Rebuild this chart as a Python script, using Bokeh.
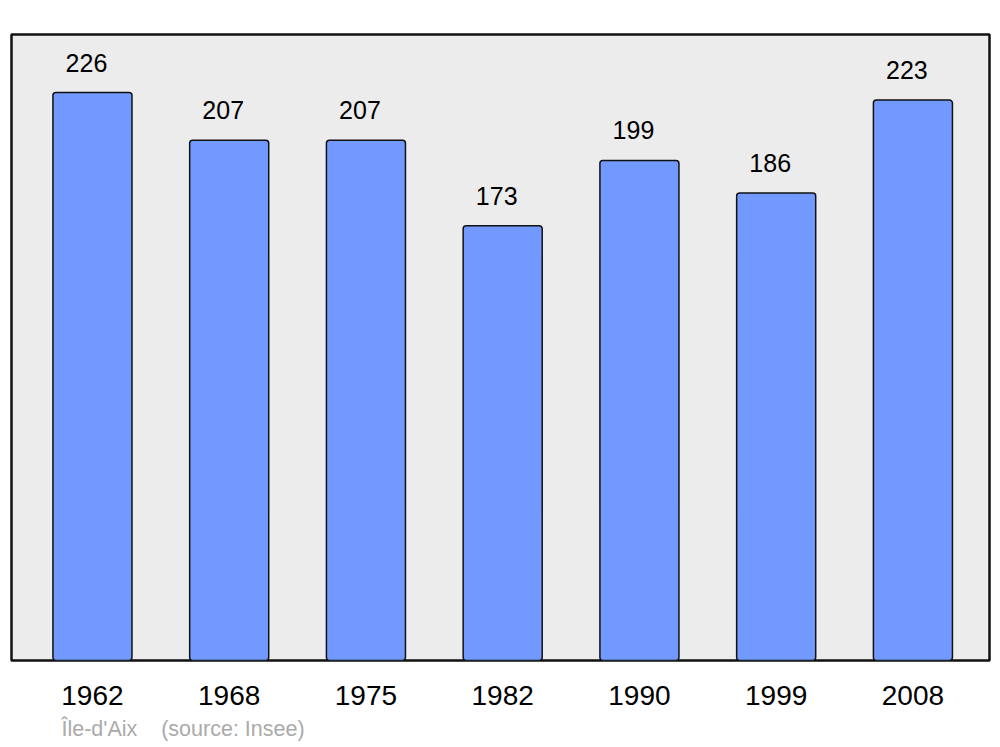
from bokeh.plotting import figure
from bokeh.models import FixedTicker, Title, ColumnDataSource, Range1d
from bokeh.core.properties import value
from bokeh.embed import file_html
from bokeh.resources import INLINE

years = ["1962", "1968", "1975", "1982", "1990", "1999", "2008"]
population = [226, 207, 207, 173, 199, 186, 223]
footer = "Île-d'Aix\u00a0\u00a0\u00a0\u00a0(source: Insee)"

idx = list(range(len(years)))
src = ColumnDataSource(dict(x=idx, top=population, label=[str(v) for v in population]))

p = figure(frame_width=978, frame_height=626, output_backend="svg", toolbar_location=None,
           x_range=Range1d(-0.592, 6.56), y_range=Range1d(0, 249.1),
           min_border_left=11, min_border_right=11, min_border_top=34, min_border_bottom=10)
p.background_fill_color = "#ececec"
p.border_fill_color = "white"
p.outline_line_color = "#111111"
p.outline_line_width = 2.5
p.grid.visible = False
p.yaxis.visible = False

p.vbar(x="x", top="top", bottom=0, width=0.578, source=src,
       fill_color="#7299ff", line_color="#111111", line_width=1.5, border_radius=3)
p.text(x="x", y="top", text="label", source=src, x_offset=-6, y_offset=-30,
       text_align="center", text_baseline="middle",
       text_font=value("Liberation Sans"), text_font_size="25px", text_color="black")

ax = p.xaxis[0]
ax.ticker = FixedTicker(ticks=idx)
ax.major_label_overrides = {i: y for i, y in zip(idx, years)}
ax.axis_line_color = None
ax.major_tick_line_color = None
ax.minor_tick_line_color = None
ax.major_tick_out = 0
ax.major_label_standoff = 25
ax.major_label_text_font = "Liberation Sans"
ax.major_label_text_font_size = "28px"
ax.major_label_text_color = "black"

t = Title(text=footer, align="left", offset=50, text_color="#aaaaaa",
          text_font="Liberation Sans", text_font_size="21.5px", text_font_style="normal",
          standoff=14)
p.add_layout(t, "below")

open("out.html", "w").write(file_html(p, INLINE))
